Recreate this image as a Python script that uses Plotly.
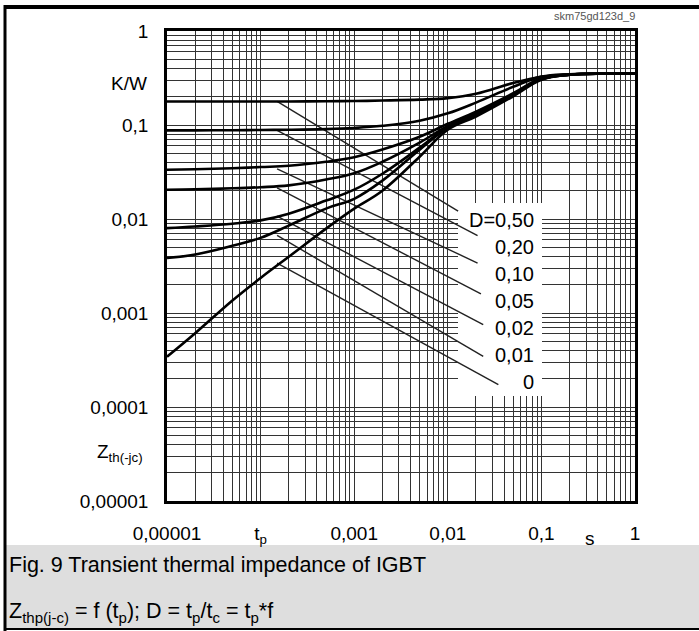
import math
import plotly.graph_objects as go

# ---- data ----
t = [1e-5, 2e-5, 5e-5, 1e-4, 2e-4, 5e-4, 1e-3, 2e-3, 5e-3, 1e-2, 2e-2, 5e-2, 0.1, 0.2, 0.5, 1.0]
z_d050 = [0.178, 0.178, 0.178, 0.178, 0.178, 0.179, 0.180, 0.182, 0.186, 0.193, 0.215, 0.280, 0.325, 0.345, 0.351, 0.351]
z_d020 = [0.0877, 0.0877, 0.088, 0.0885, 0.089, 0.0905, 0.093, 0.098, 0.111, 0.133, 0.173, 0.255, 0.327, 0.347, 0.351, 0.351]
z_d010 = [0.0334, 0.0338, 0.0347, 0.0357, 0.0368, 0.0406, 0.0454, 0.0548, 0.0749, 0.103, 0.139, 0.218, 0.315, 0.343, 0.351, 0.351]
z_d005 = [0.0205, 0.0207, 0.0212, 0.0218, 0.0228, 0.0263, 0.0307, 0.0406, 0.065, 0.098, 0.135, 0.213, 0.310, 0.343, 0.351, 0.351]
z_d002 = [0.0080, 0.00832, 0.0089, 0.00967, 0.0114, 0.0157, 0.0205, 0.0303, 0.0574, 0.0957, 0.130, 0.210, 0.307, 0.343, 0.351, 0.351]
z_d001 = [0.00385, 0.0042, 0.0052, 0.0063, 0.0085, 0.0129, 0.0164, 0.0256, 0.0546, 0.0934, 0.128, 0.207, 0.307, 0.343, 0.351, 0.351]
z_d000 = [3.43e-4, 6.1e-4, 1.36e-3, 2.36e-3, 3.97e-3, 7.9e-3, 0.0129, 0.0200, 0.046, 0.089, 0.123, 0.202, 0.303, 0.343, 0.351, 0.351]
series = [z_d050, z_d020, z_d010, z_d005, z_d002, z_d001, z_d000]

d_labels = ["D=0,50", "0,20", "0,10", "0,05", "0,02", "0,01", "0"]
label_t = [0.088] * 7
label_z = [0.00984, 0.00507, 0.00262, 0.00135, 6.98e-4, 3.6e-4, 1.86e-4]

lead_t0 = [1.5e-4, 1.5e-4, 1.5e-4, 1.5e-4, 1.5e-4, 1.5e-4, 1.5e-4]
lead_z0 = [0.178, 0.0877, 0.0342, 0.0214, 0.0107, 0.0067, 0.0034]
lead_t1 = [0.0129, 0.0208, 0.0208, 0.0226, 0.0239, 0.0239, 0.0347]
lead_z1 = [0.0121, 0.00664, 0.0034, 0.0016, 0.00075, 0.000345, 0.000173]

x_tickvals = [1e-5, 1e-4, 1e-3, 1e-2, 1e-1, 1.0]
x_ticktext = ["0,00001", "t<sub>p</sub>", "0,001", "0,01", "0,1", "1"]
y_tickvals = [1.0, 1e-1, 1e-2, 1e-3, 1e-4, 1e-5]
y_ticktext = ["1", "0,1", "0,01", "0,001", "0,0001", "0,00001"]

FONT = "Arial, Liberation Sans, sans-serif"
minor_vals = [m * 10 ** e for e in range(-5, 0) for m in range(2, 10)]

W, H = 699, 631
L, R, T, B = 167, 64, 31, 130
pw, ph = W - L - R, H - T - B

def px(xp):
    return (xp - L) / pw

def py(yp):
    return (H - B - yp) / ph

def tx(xp):  # pixel -> data value on the log x axis
    return 10 ** (-5 + 5 * px(xp))

def ty(yp):  # pixel -> data value on the log y axis
    return 10 ** (-5 + 5 * py(yp))

fig = go.Figure()

# white background box behind the D labels (above grid, below lines)
bx0, bx1, by0, by1 = tx(458), tx(542), ty(396), ty(203)
fig.add_trace(go.Scatter(x=[bx0, bx1, bx1, bx0, bx0], y=[by0, by0, by1, by1, by0],
                         mode="lines", fill="toself", fillcolor="white",
                         line=dict(width=0, color="white"), hoverinfo="skip", showlegend=False))

for i in range(len(lead_t0)):
    fig.add_trace(go.Scatter(x=[lead_t0[i], lead_t1[i]], y=[lead_z0[i], lead_z1[i]],
                             mode="lines", line=dict(color="#222", width=1.4),
                             hoverinfo="skip", showlegend=False))

for s in series:
    fig.add_trace(go.Scatter(x=t, y=s, mode="lines",
                             line=dict(color="black", width=2.6, shape="spline", smoothing=1.1),
                             showlegend=False))

for txt, lt, lz in zip(d_labels, label_t, label_z):
    fig.add_annotation(x=math.log10(lt), y=math.log10(lz), xref="x", yref="y",
                       text=txt, showarrow=False, xanchor="right", yanchor="middle",
                       font=dict(family=FONT, size=20, color="black"))

# caption panel
fig.add_shape(type="rect", xref="paper", yref="paper", x0=px(5), x1=px(700),
              y0=py(629), y1=py(545), fillcolor="#dedede", line=dict(width=0), layer="below")
# frame lines
fig.add_shape(type="line", xref="paper", yref="paper", x0=px(4), x1=px(700), y0=py(7), y1=py(7),
              line=dict(color="black", width=4))
fig.add_shape(type="line", xref="paper", yref="paper", x0=px(5), x1=px(5), y0=py(5), y1=py(632),
              line=dict(color="black", width=3))
fig.add_shape(type="line", xref="paper", yref="paper", x0=px(4), x1=px(700), y0=py(629), y1=py(629),
              line=dict(color="black", width=2))

# extra axis texts
fig.add_annotation(xref="paper", yref="paper", x=px(149), y=py(83), text="K/W", showarrow=False,
                   xanchor="right", yanchor="middle", font=dict(family=FONT, size=19, color="black"))
fig.add_annotation(xref="paper", yref="paper", x=px(145), y=py(453), text="Z<sub>th(-jc)</sub>",
                   showarrow=False, xanchor="right", yanchor="middle",
                   font=dict(family=FONT, size=19, color="black"))
fig.add_annotation(xref="paper", yref="paper", x=px(590), y=py(538), text="s", showarrow=False,
                   xanchor="center", yanchor="middle", font=dict(family=FONT, size=19, color="black"))
fig.add_annotation(xref="paper", yref="paper", x=px(637), y=py(16), text="skm75gd123d_9",
                   showarrow=False, xanchor="right", yanchor="middle",
                   font=dict(family=FONT, size=11, color="#555"))
fig.add_annotation(xref="paper", yref="paper", x=px(7), y=py(565),
                   text="Fig. 9 Transient thermal impedance of IGBT", showarrow=False,
                   xanchor="left", yanchor="middle", font=dict(family=FONT, size=21.5, color="black"))
fig.add_annotation(xref="paper", yref="paper", x=px(7), y=py(612),
                   text="Z<sub>thp(j-c)</sub> = f (t<sub>p</sub>); D = t<sub>p</sub>/t<sub>c</sub> = t<sub>p</sub>*f",
                   showarrow=False, xanchor="left", yanchor="middle",
                   font=dict(family=FONT, size=21.5, color="black"))

axis_common = dict(type="log", range=[-5, 0], showgrid=True, gridcolor="#333", gridwidth=1,
                   showline=True, linecolor="black", linewidth=2.5, mirror=True,
                   ticks="", zeroline=False,
                   tickfont=dict(family=FONT, size=19, color="black"))

fig.update_xaxes(**axis_common, tickmode="array", tickvals=x_tickvals, ticktext=x_ticktext,
                 ticklabelstandoff=13,
                 minor=dict(tickmode="array", tickvals=minor_vals, showgrid=True,
                            gridcolor="#333", gridwidth=1, ticks=""))
fig.update_yaxes(**axis_common, tickmode="array", tickvals=y_tickvals, ticktext=y_ticktext,
                 ticklabelstandoff=12,
                 minor=dict(tickmode="array", tickvals=minor_vals, showgrid=True,
                            gridcolor="#333", gridwidth=1, ticks=""))

fig.update_layout(width=W, height=H, margin=dict(l=L, r=R, t=T, b=B, autoexpand=False),
                  paper_bgcolor="white", plot_bgcolor="white", showlegend=False,
                  font=dict(family=FONT, color="black"))

fig.write_html("out.html")
